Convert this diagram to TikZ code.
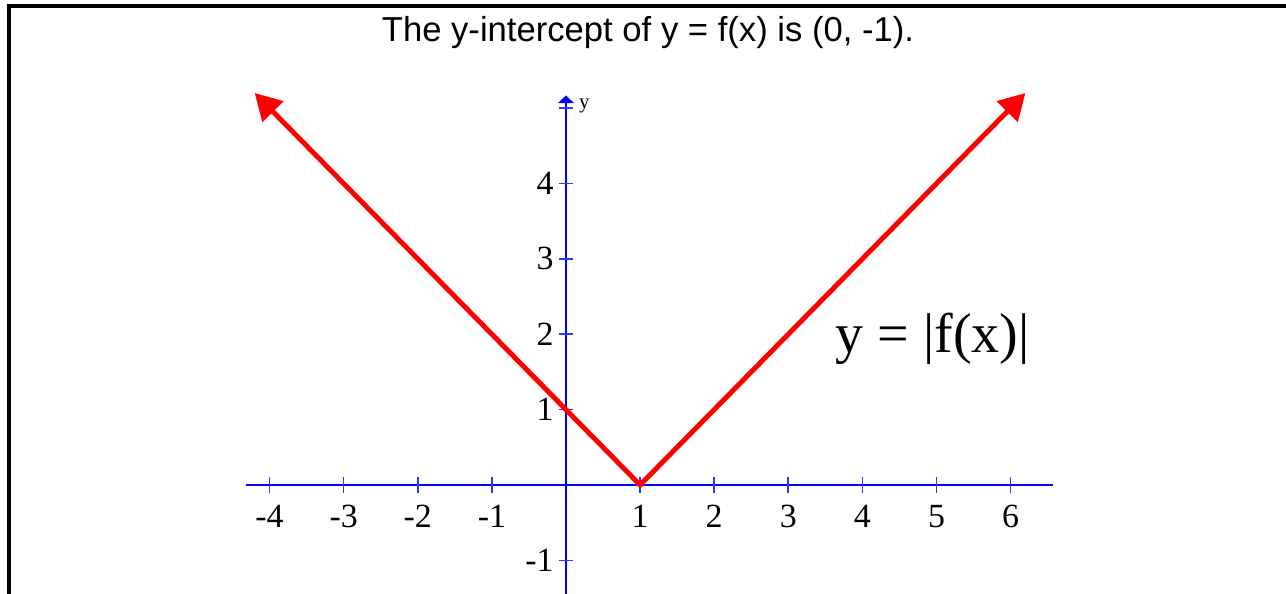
\documentclass[tikz,border=0pt]{standalone}
\usepackage{fontspec}
\setmainfont{Liberation Serif}
\newfontfamily\titlefont{Liberation Sans}
\usepackage{tikz}
\usetikzlibrary{arrows.meta,positioning,calc}

\begin{document}
\begin{tikzpicture}[
    x=1cm, y=1.017cm,
    axis/.style={draw=blue, line width=1pt},
    tick/.style={draw=blue!80, line width=0.6pt},
    graph/.style={draw=red, line width=1.9pt, {Triangle[length=10pt,width=11pt]}-{Triangle[length=10pt,width=11pt]}},
    frame/.style={draw=black, line width=1.2pt},
    ticklabel/.style={font=\fontsize{13}{15}\selectfont, inner sep=0pt},
    title/.style={font=\titlefont\fontsize{13.3}{16}\selectfont, inner sep=0pt},
    eqlabel/.style={font=\fontsize{21.5}{26}\selectfont, inner sep=0pt}
]
    \useasboundingbox (-7.638cm,-1.471cm) rectangle (9.717cm,6.545cm);

    \coordinate (framebl) at (-7.517cm,-1.6cm);
    \coordinate (frametl) at (-7.517cm,6.464cm);
    \coordinate (frametr) at (9.8cm,6.464cm);
    \draw [frame] (framebl) -- (frametl) -- (frametr);

    \node [title] (title) at (1.107,6.0) {The y-intercept of y = f(x) is (0, -1).};

    \coordinate (xmin) at (-4.32,0);
    \coordinate (xmax) at (6.57,0);
    \coordinate (ymin) at (0,-1.5);
    \coordinate (ymax) at (0,5.17);
    \draw [axis] (xmin) -- (xmax);
    \draw [axis, -{Triangle[length=3pt,width=6pt]}] (ymin) -- (ymax);

    \foreach \x [count=\i] in {-4,-3,-2,-1,1,2,3,4,5,6}{
        \draw [tick] (\x,-0.1) -- (\x,0.1);
    }
    \foreach \y [count=\i] in {-1,1,2,3,4,5}{
        \draw [tick] (-0.1,\y) -- (0.1,\y);
    }

    \coordinate (vertex) at (1,0);
    \coordinate (lefttip) at (-4.2,5.2);
    \coordinate (righttip) at (6.2,5.2);
    \draw [graph] (lefttip) -- (vertex) -- (righttip);

    \foreach \x [count=\i] in {-4,-3,-2,-1,1,2,3,4,5,6}{
        \node [ticklabel, anchor=base] (xl\i) at (\x,-0.56) {\x};
    }
    \foreach \y [count=\i] in {-1,1,2,3,4}{
        \node [ticklabel, anchor=east] (yl\i) at (-0.16,\y) {\y};
    }
    \node [font=\fontsize{8}{9}\selectfont, anchor=west, inner sep=0pt] (ylabel) at (0.17,5.03) {y};

    \node [eqlabel, anchor=base] (eqn) at (4.95,1.76) {y = |f(x)|};
\end{tikzpicture}
\end{document}
